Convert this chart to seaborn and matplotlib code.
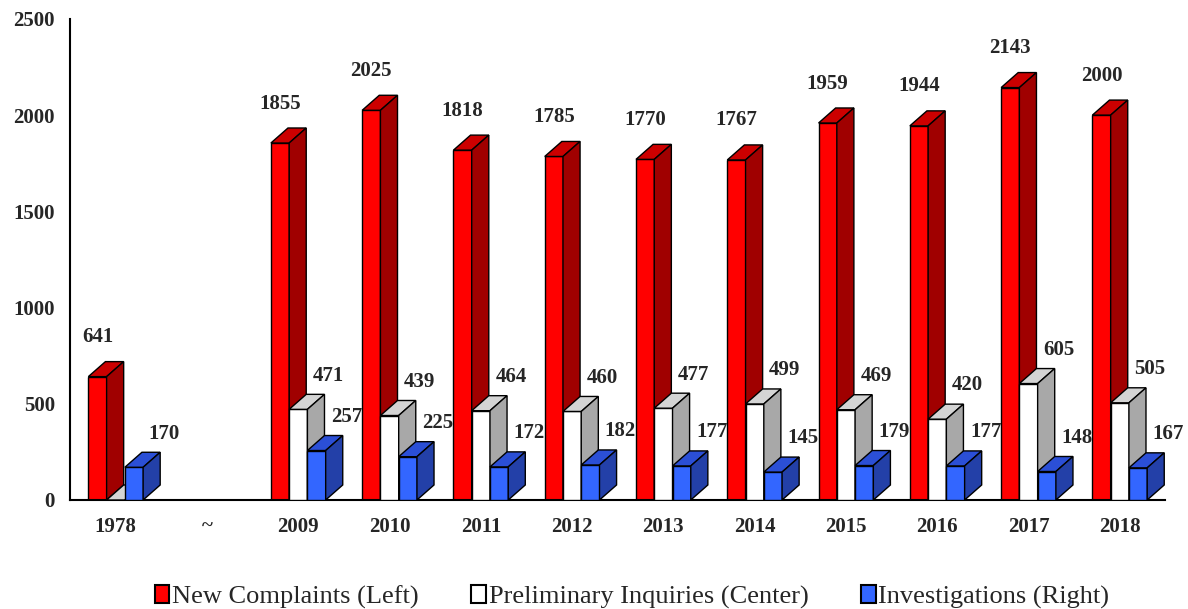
import numpy as np
import pandas as pd
import matplotlib.pyplot as plt
import seaborn as sns
from matplotlib.patches import Patch

# values
years = ["1978", "~", "2009", "2010", "2011", "2012", "2013", "2014",
         "2015", "2016", "2017", "2018"]
new_complaints = [641, np.nan, 1855, 2025, 1818, 1785, 1770, 1767, 1959, 1944, 2143, 2000]
preliminary = [0, np.nan, 471, 439, 464, 460, 477, 499, 469, 420, 605, 505]
investigations = [170, np.nan, 257, 225, 172, 182, 177, 145, 179, 177, 148, 167]
series_names = ["New Complaints (Left)", "Preliminary Inquiries (Center)",
                "Investigations (Right)"]

# front / top / side face colours per series
front = ["#FF0000", "#FFFFFF", "#3366FF"]
top = ["#CC0000", "#D4D4D4", "#2B4FD6"]
side = ["#A00000", "#A8A8A8", "#2340A8"]

sns.set_style("white")
plt.rcParams["font.family"] = ["Liberation Serif", "DejaVu Serif"]

df = pd.DataFrame({"Year": years, series_names[0]: new_complaints,
                   series_names[1]: preliminary, series_names[2]: investigations})
long = df.melt(id_vars="Year", var_name="Series", value_name="Count").dropna()

fig = plt.figure(figsize=(11.88, 6.09), dpi=100)
ax = fig.add_axes([0.059, 0.179, 0.922, 0.790])

sns.barplot(data=long, x="Year", y="Count", hue="Series", order=years,
            hue_order=series_names, palette=front, saturation=1, width=0.6, gap=0,
            edgecolor="black", linewidth=1, errorbar=None, ax=ax, legend=False)

# depth of the fake 3D extrusion
dx = 0.187   # category units
dy = 78      # data units

for k, cont in enumerate(ax.containers):
    for bar in cont:
        h = bar.get_height()
        if np.isnan(h):
            continue
        x0 = bar.get_x()
        x1 = x0 + bar.get_width()
        z = 2 + k
        bar.set_zorder(z)
        ax.fill([x0, x1, x1 + dx, x0 + dx], [h, h, h + dy, h + dy],
                facecolor=top[k], edgecolor="black", linewidth=1, zorder=z)
        ax.fill([x1, x1 + dx, x1 + dx, x1], [0, dy, h + dy, h],
                facecolor=side[k], edgecolor="black", linewidth=1, zorder=z)
        if h <= 0:
            continue
        cx = x0 + bar.get_width() / 2
        if k == 0:
            ax.text(cx, h + 205, f"{int(h)}", ha="center", va="center",
                    fontsize=15, fontweight="bold", zorder=10)
        else:
            ax.text(cx + 0.33, h + 175, f"{int(h)}", ha="center", va="center",
                    fontsize=15, fontweight="bold", zorder=10)

ax.set_xlim(-0.5, len(years) - 0.5)
ax.set_ylim(0, 2500)
ax.set_yticks(range(0, 2501, 500))
ax.set_xticks(np.arange(len(years)))
ax.set_xticks(np.arange(len(years) + 1) - 0.5, minor=True)
ax.tick_params(axis="x", which="major", length=0, pad=12, labelsize=15)
ax.tick_params(axis="x", which="minor", length=5, width=1.2, direction="out")
ax.tick_params(axis="y", length=5, width=1.2, direction="out", labelsize=15, pad=6)
for lbl in ax.get_xticklabels() + ax.get_yticklabels():
    lbl.set_fontweight("bold")
ax.set_xlabel("")
ax.set_ylabel("")
sns.despine(ax=ax)
for sp in ["left", "bottom"]:
    ax.spines[sp].set_color("black")
    ax.spines[sp].set_linewidth(1.5)

handles = [Patch(facecolor=c, edgecolor="black", linewidth=1.5) for c in front]
fig.legend(handles, series_names, loc="center", bbox_to_anchor=(0.532, 0.02),
           ncol=3, frameon=False, fontsize=19, handlelength=0.55, handleheight=0.7,
           handletextpad=0.1, columnspacing=2.0)

fig.savefig("out.png", dpi=100)
